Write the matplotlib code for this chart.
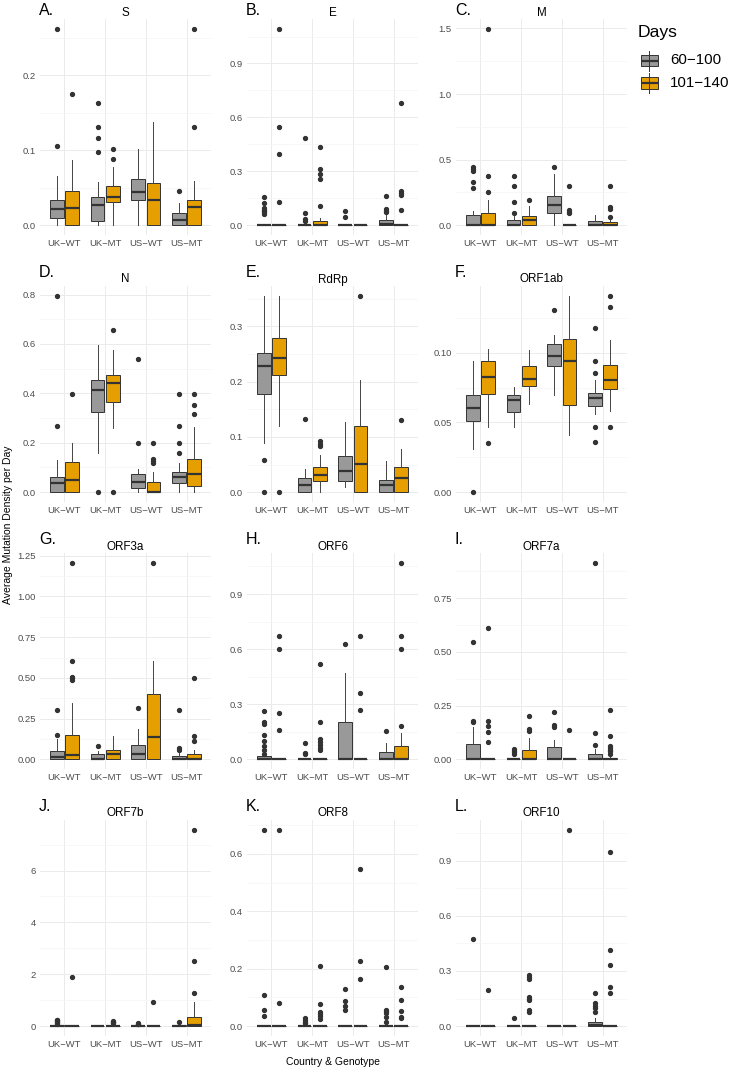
import matplotlib
matplotlib.use("Agg")
import matplotlib.pyplot as plt
import matplotlib.ticker as ticker
from matplotlib.patches import Rectangle

plt.rcParams["font.family"] = ["Liberation Sans", "DejaVu Sans"]

W, H, DPI = 732, 1071, 100

GENES  = ["S", "E", "M", "N", "RdRp", "ORF1ab",
          "ORF3a", "ORF6", "ORF7a", "ORF7b", "ORF8", "ORF10"]
TAGS   = ["A.", "B.", "C.", "D.", "E.", "F.", "G.", "H.", "I.", "J.", "K.", "L."]
GROUPS = ["UK\u2212WT", "UK\u2212MT", "US\u2212WT", "US\u2212MT"]
DAYS   = ["60\u2212100", "101\u2212140"]
FILLS  = ["#999999", "#E69F00"]

# y-axis break step and decimals shown, per panel
Y_STEP = [0.1, 0.3, 0.5, 0.2, 0.1, 0.05, 0.25, 0.3, 0.25, 2, 0.2, 0.3]
Y_DEC  = [1, 1, 1, 1, 1, 2, 2, 1, 2, 0, 1, 1]

# boxes: [whisker low, q1, median, q3, whisker high]
# order: UK-WT 60-100, UK-WT 101-140, UK-MT ..., US-WT ..., US-MT ...
S_BOX = [[0, 0.010, 0.022, 0.033, 0.066], [0, 0, 0.023, 0.045, 0.087],
         [0, 0.006, 0.027, 0.038, 0.058], [0, 0.031, 0.038, 0.052, 0.077],
         [0, 0.033, 0.044, 0.061, 0.101], [0, 0, 0.033, 0.056, 0.138],
         [0, 0, 0.007, 0.016, 0.030], [0, 0, 0.024, 0.034, 0.059]]
S_OUT = [[0.105, 0.262], [0.175], [0.098, 0.116, 0.131, 0.163], [0.088, 0.102],
         [], [], [0.045], [0.131, 0.262]]

E_BOX = [[0, 0, 0, 0, 0], [0, 0, 0, 0, 0],
         [0, 0, 0, 0, 0], [0, 0, 0, 0.022, 0.039],
         [0, 0, 0, 0, 0], [0, 0, 0, 0, 0],
         [0, 0, 0.008, 0.028, 0.057], [0, 0, 0, 0, 0]]
E_OUT = [[0.065, 0.072, 0.078, 0.085, 0.094, 0.122, 0.156], [0.128, 0.398, 0.548, 1.093],
         [0.026, 0.035, 0.070, 0.487], [0.104, 0.257, 0.285, 0.313, 0.437],
         [0.043, 0.081], [],
         [0.074, 0.081, 0.089, 0.165], [0.085, 0.170, 0.180, 0.189, 0.681]]

M_BOX = [[0, 0, 0, 0.074, 0.107], [0, 0, 0, 0.096, 0.19],
         [0, 0, 0.005, 0.038, 0.071], [0, 0, 0.038, 0.071, 0.147],
         [0, 0.091, 0.157, 0.226, 0.391], [0, 0, 0, 0, 0],
         [0, 0, 0, 0.030, 0.079], [0, 0, 0.005, 0.023, 0.04]]
M_OUT = [[0.28, 0.33, 0.41, 0.43, 0.44], [0.256, 0.376, 1.497],
         [0.096, 0.18, 0.30, 0.376], [0.193],
         [0.44], [0.091, 0.104, 0.117, 0.30],
         [], [0.066, 0.124, 0.137, 0.30]]

N_BOX = [[0, 0, 0.039, 0.061, 0.131], [0, 0, 0.050, 0.121, 0.200],
         [0.158, 0.323, 0.413, 0.453, 0.595], [0.259, 0.364, 0.444, 0.474, 0.574],
         [0, 0.015, 0.040, 0.073, 0.094], [0, 0, 0, 0.040, 0.081],
         [0, 0.036, 0.062, 0.082, 0.117], [0, 0.024, 0.072, 0.134, 0.263]]
N_OUT = [[0.266, 0.795], [0.397],
         [0], [0, 0.655],
         [0.2, 0.54], [0.12, 0.126, 0.134, 0.2],
         [0.16, 0.2, 0.266, 0.397], [0.317, 0.354, 0.397]]

RDRP_BOX = [[0.089, 0.177, 0.229, 0.251, 0.355], [0.119, 0.212, 0.242, 0.279, 0.355],
            [0, 0, 0.013, 0.025, 0.042], [0, 0.021, 0.031, 0.045, 0.068],
            [0.009, 0.021, 0.038, 0.065, 0.127], [0, 0, 0.051, 0.119, 0.203],
            [0, 0, 0.013, 0.022, 0.056], [0, 0, 0.025, 0.045, 0.078]]
RDRP_OUT = [[0, 0.059], [0],
            [0.133], [0.084, 0.088, 0.092],
            [], [0.355],
            [], [0.131]]

ORF1AB_BOX = [[0.0313, 0.0514, 0.0605, 0.0699, 0.0938], [0.0471, 0.0703, 0.0823, 0.094, 0.1026],
              [0.0471, 0.0574, 0.0658, 0.0696, 0.0754], [0.0634, 0.0761, 0.0811, 0.0909, 0.1019],
              [0.0694, 0.0902, 0.0978, 0.106, 0.1129], [0.0411, 0.0624, 0.094, 0.1096, 0.1409],
              [0.056, 0.062, 0.0677, 0.0711, 0.0804], [0.0579, 0.0742, 0.0806, 0.0916, 0.1093]]
ORF1AB_OUT = [[0], [0.0354],
              [], [],
              [0.1309], [],
              [0.0361, 0.0469, 0.0852, 0.0938, 0.1175], [0.0469, 0.133, 0.1409]]

ORF3A_BOX = [[0, 0, 0.016, 0.053, 0.127], [0, 0, 0.027, 0.150, 0.344],
             [0, 0, 0, 0.031, 0.049], [0, 0, 0.033, 0.055, 0.145],
             [0, 0, 0.033, 0.088, 0.186], [0, 0, 0.135, 0.400, 0.602],
             [0, 0, 0, 0.018, 0.041], [0, 0, 0, 0.031, 0.057]]
ORF3A_OUT = [[0.15, 0.30], [0.484, 0.496, 0.506, 0.602, 1.207],
             [0.084], [],
             [0.316], [1.207],
             [0.059, 0.068, 0.30], [0.109, 0.141, 0.50]]

ORF6_BOX = [[0, 0, 0.002, 0.016, 0.016], [0, 0, 0, 0, 0],
            [0, 0, 0, 0, 0], [0, 0, 0, 0, 0],
            [0, 0, 0, 0.205, 0.47], [0, 0, 0, 0, 0],
            [0, 0, 0, 0.037, 0.09], [0, 0, 0, 0.07, 0.14]]
ORF6_OUT = [[0.03, 0.05, 0.07, 0.1, 0.13, 0.19, 0.2, 0.26], [0.16, 0.25, 0.6, 0.67],
            [0.027, 0.035, 0.09], [0.05, 0.06, 0.08, 0.093, 0.109, 0.2, 0.52],
            [0.63], [0.27, 0.36, 0.67],
            [0.155], [0.18, 0.6, 0.67, 1.07]]

ORF7A_BOX = [[0, 0, 0, 0.07, 0.15], [0, 0, 0, 0, 0],
             [0, 0, 0, 0, 0], [0, 0, 0, 0.043, 0.098],
             [0, 0, 0, 0.056, 0.09], [0, 0, 0, 0, 0],
             [0, 0, 0, 0.025, 0.048], [0, 0, 0.003, 0.006, 0.02]]
ORF7A_OUT = [[0.175, 0.18, 0.545], [0.079, 0.127, 0.154, 0.178, 0.61],
             [0.026, 0.033, 0.04, 0.048], [0.132, 0.141, 0.2],
             [0.148, 0.157, 0.222], [0.137],
             [0.067, 0.124, 0.915], [0.026, 0.036, 0.045, 0.054, 0.062, 0.109, 0.228]]

ORF7B_BOX = [[0, 0, 0, 0.03, 0.06], [0, 0, 0, 0, 0],
             [0, 0, 0, 0, 0], [0, 0, 0, 0, 0],
             [0, 0, 0, 0, 0], [0, 0, 0, 0, 0],
             [0, 0, 0, 0.06, 0.1], [0, 0, 0.03, 0.36, 0.95]]
ORF7B_OUT = [[0.1, 0.13, 0.16, 0.19, 0.22, 0.25], [1.89],
             [], [0.12, 0.15, 0.18, 0.21],
             [0.08, 0.1, 0.13], [0.94],
             [0.15], [1.26, 2.52, 7.57]]

ORF8_BOX = [[0, 0, 0, 0, 0]] * 8
ORF8_OUT = [[0.037, 0.058, 0.109, 0.684], [0.08, 0.684],
            [0.01, 0.016, 0.021, 0.027], [0.026, 0.035, 0.044, 0.05, 0.077, 0.21],
            [0.055, 0.07, 0.086, 0.13], [0.166, 0.227, 0.547],
            [0.016, 0.031, 0.046, 0.052, 0.057, 0.207], [0.028, 0.031, 0.053, 0.09, 0.137]]

ORF10_BOX = [[0, 0, 0, 0, 0], [0, 0, 0, 0, 0],
             [0, 0, 0, 0, 0], [0, 0, 0, 0, 0],
             [0, 0, 0, 0, 0], [0, 0, 0, 0, 0],
             [0, 0, 0.004, 0.024, 0.045], [0, 0, 0, 0, 0]]
ORF10_OUT = [[0.475], [0.199],
             [0.043], [0.078, 0.087, 0.141, 0.15, 0.161, 0.259, 0.268, 0.277],
             [], [1.067],
             [0.076, 0.098, 0.109, 0.127, 0.179], [0.183, 0.214, 0.33, 0.415, 0.949]]

BOXES = [S_BOX, E_BOX, M_BOX, N_BOX, RDRP_BOX, ORF1AB_BOX,
         ORF3A_BOX, ORF6_BOX, ORF7A_BOX, ORF7B_BOX, ORF8_BOX, ORF10_BOX]
OUTS  = [S_OUT, E_OUT, M_OUT, N_OUT, RDRP_OUT, ORF1AB_OUT,
         ORF3A_OUT, ORF6_OUT, ORF7A_OUT, ORF7B_OUT, ORF8_OUT, ORF10_OUT]

# layout in pixels
COL_X   = [40, 247, 456]
ROW_Y   = [19, 286, 553, 820]
PANEL_W = 171
PANEL_H = 216

EDGE  = "#333333"
GRID  = "#EBEBEB"
TICKC = "#4D4D4D"


def fig_rect(x, y, w, h):
    return [x / W, 1 - (y + h) / H, w / W, h / H]


def draw_panel(ax, boxes, outs, step, dec):
    for d in range(2):
        stats, pos = [], []
        for g in range(4):
            lo, q1, med, q3, hi = boxes[g * 2 + d]
            stats.append(dict(whislo=lo, q1=q1, med=med, q3=q3, whishi=hi,
                              fliers=outs[g * 2 + d]))
            pos.append(g + 1 + (d - 0.5) * 0.375)
        ax.bxp(stats, positions=pos, widths=0.3375, patch_artist=True,
               showcaps=False, manage_ticks=False,
               boxprops=dict(facecolor=FILLS[d], edgecolor=EDGE, linewidth=0.7),
               whiskerprops=dict(color="#444444", linewidth=0.7),
               medianprops=dict(color=EDGE, linewidth=1.6, solid_capstyle="butt"),
               flierprops=dict(marker="o", markersize=2.8, markerfacecolor=EDGE,
                               markeredgecolor=EDGE, linestyle="none"))

    vals = [v for b in boxes for v in b] + [v for o in outs for v in o]
    lo, hi = min(vals), max(vals)
    pad = (hi - lo) * 0.05
    ax.set_ylim(lo - pad, hi + pad)
    ax.set_xlim(0.4, 4.6)

    ax.set_xticks(range(1, 5))
    ax.set_xticklabels(GROUPS)
    ax.yaxis.set_major_locator(ticker.MultipleLocator(step))
    ax.yaxis.set_minor_locator(ticker.MultipleLocator(step / 2))
    ax.yaxis.set_major_formatter(ticker.FormatStrFormatter(f"%.{dec}f"))

    ax.grid(True, which="major", color=GRID, linewidth=0.7)
    ax.grid(True, which="minor", axis="y", color="#F3F3F3", linewidth=0.45)
    ax.set_axisbelow(True)
    for s in ax.spines.values():
        s.set_visible(False)
    ax.tick_params(which="both", length=0, colors=TICKC, labelsize=6.8)
    ax.tick_params(axis="x", pad=3)
    ax.tick_params(axis="y", pad=3)


fig = plt.figure(figsize=(W / DPI, H / DPI), dpi=DPI)
fig.patch.set_facecolor("white")

for i in range(12):
    r, c = divmod(i, 3)
    ax = fig.add_axes(fig_rect(COL_X[c], ROW_Y[r], PANEL_W, PANEL_H))
    draw_panel(ax, BOXES[i], OUTS[i], Y_STEP[i], Y_DEC[i])

# overlay in pixel coordinates for titles, tags, legend, axis titles
ov = fig.add_axes([0, 0, 1, 1])
ov.set_xlim(0, W)
ov.set_ylim(H, 0)
ov.axis("off")
ov.patch.set_alpha(0)

for i in range(12):
    r, c = divmod(i, 3)
    x0, y0 = COL_X[c], ROW_Y[r]
    ov.text(x0 + PANEL_W / 2, y0 - 3.5, GENES[i], ha="center", va="baseline",
            fontsize=8.4, color="black")
    ov.text(x0 - 1, max(15, y0 - 9), TAGS[i], ha="left", va="baseline",
            fontsize=11.5, color="black")

ov.text(8, 525, "Average Mutation Density per Day", rotation=90,
        ha="center", va="center", fontsize=7.5, color="black")
ov.text(333, 1062, "Country & Genotype", ha="center", va="center",
        fontsize=7.5, color="black")

# legend
ov.text(638, 37, "Days", ha="left", va="baseline", fontsize=12.6, color="black")
for d in range(2):
    cy = 60.5 + d * 22.5
    ov.plot([649, 649], [cy - 10, cy + 10], color=EDGE, linewidth=0.7)
    ov.add_patch(Rectangle((640.5, cy - 5.7), 17, 11.4, facecolor=FILLS[d],
                           edgecolor=EDGE, linewidth=0.7))
    ov.plot([640.5, 657.5], [cy, cy], color=EDGE, linewidth=1.6, solid_capstyle="butt")
    ov.text(670, cy, DAYS[d], ha="left", va="center", fontsize=10.9, color="black")

fig.savefig("out.png", dpi=DPI, facecolor="white")
